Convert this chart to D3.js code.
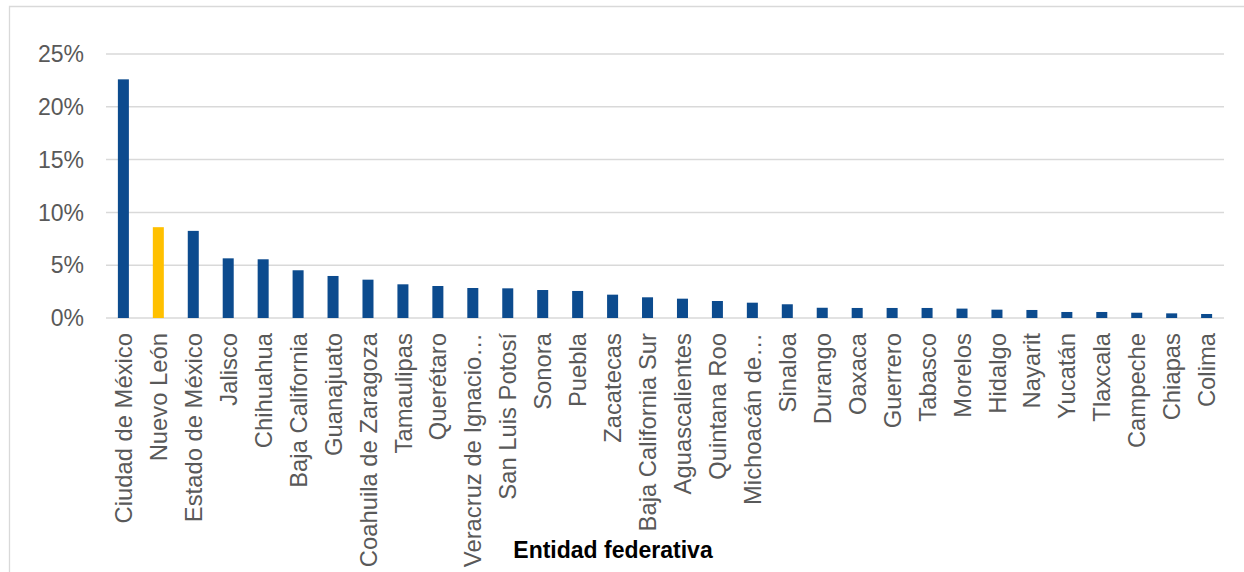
<!DOCTYPE html>
<html>
<head>
<meta charset="utf-8">
<script src="https://cdn.jsdelivr.net/npm/d3@7/dist/d3.min.js"></script>
<style>
  html, body { margin: 0; padding: 0; background: #fff; }
  svg { display: block; }
</style>
</head>
<body>
<svg id="chart" width="1244" height="572"></svg>
<script>
const categories = ["Ciudad de México","Nuevo León","Estado de México","Jalisco","Chihuahua","Baja California","Guanajuato","Coahuila de Zaragoza","Tamaulipas","Querétaro","Veracruz de Ignacio…","San Luis Potosí","Sonora","Puebla","Zacatecas","Baja California Sur","Aguascalientes","Quintana Roo","Michoacán de…","Sinaloa","Durango","Oaxaca","Guerrero","Tabasco","Morelos","Hidalgo","Nayarit","Yucatán","Tlaxcala","Campeche","Chiapas","Colima"];
const values = [22.6,8.6,8.25,5.65,5.56,4.52,3.98,3.63,3.19,3.03,2.84,2.81,2.65,2.56,2.21,1.96,1.83,1.61,1.45,1.3,0.97,0.95,0.95,0.95,0.89,0.79,0.76,0.57,0.57,0.5,0.44,0.38];
const highlight = ["Nuevo León"];
const yTicks = [0,5,10,15,20,25];
const xTitle = "Entidad federativa";

const svg = d3.select("#chart");
const W = 1244, H = 572;
const m = {left:106, right:20, top:54, bottom:254};

// outer frame
svg.append("path").attr("d", `M9.5,${H} L9.5,6.5 L${W},6.5`).attr("fill","none").attr("stroke","#d9d9d9").attr("stroke-width",1.3);

const x = d3.scaleBand().domain(categories).range([m.left, W - m.right]).paddingInner(0.685).paddingOuter(0.34);
const y = d3.scaleLinear().domain([0,25]).range([H - m.bottom, m.top]);

// gridlines
svg.append("g").selectAll("line").data(yTicks).join("line")
  .attr("x1", m.left).attr("x2", W - m.right)
  .attr("y1", d=>y(d)).attr("y2", d=>y(d))
  .attr("stroke","#d9d9d9").attr("stroke-width",1.5);

// y labels
svg.append("g").selectAll("text").data(yTicks).join("text")
  .attr("x", 84).attr("y", d=>y(d)).attr("dy","0.36em")
  .attr("text-anchor","end")
  .attr("font-family","Liberation Sans, Arial, sans-serif")
  .attr("font-size",23).attr("fill","#595959")
  .text(d=>d+"%");

// bars
svg.append("g").selectAll("rect").data(categories).join("rect")
  .attr("x", d=>x(d)).attr("width", x.bandwidth())
  .attr("y", (d,i)=>y(values[i])).attr("height",(d,i)=>y(0)-y(values[i]))
  .attr("fill", d=> highlight.includes(d) ? "#FFC000" : "#0C4B8E");

// x labels
svg.append("g").selectAll("text").data(categories).join("text")
  .attr("transform", d=>`translate(${x(d)+x.bandwidth()/2},${y(0)+15}) rotate(-90)`)
  .attr("dy","0.36em")
  .attr("text-anchor","end")
  .attr("font-family","Liberation Sans, Arial, sans-serif")
  .attr("font-size",23.8).attr("fill","#595959")
  .text(d=>d);

// axis title
svg.append("text").attr("x", 613).attr("y", 558)
  .attr("text-anchor","middle")
  .attr("font-family","Liberation Sans, Arial, sans-serif").attr("font-weight","bold")
  .attr("font-size",23).attr("fill","#000")
  .text(xTitle);
</script>
</body>
</html>
